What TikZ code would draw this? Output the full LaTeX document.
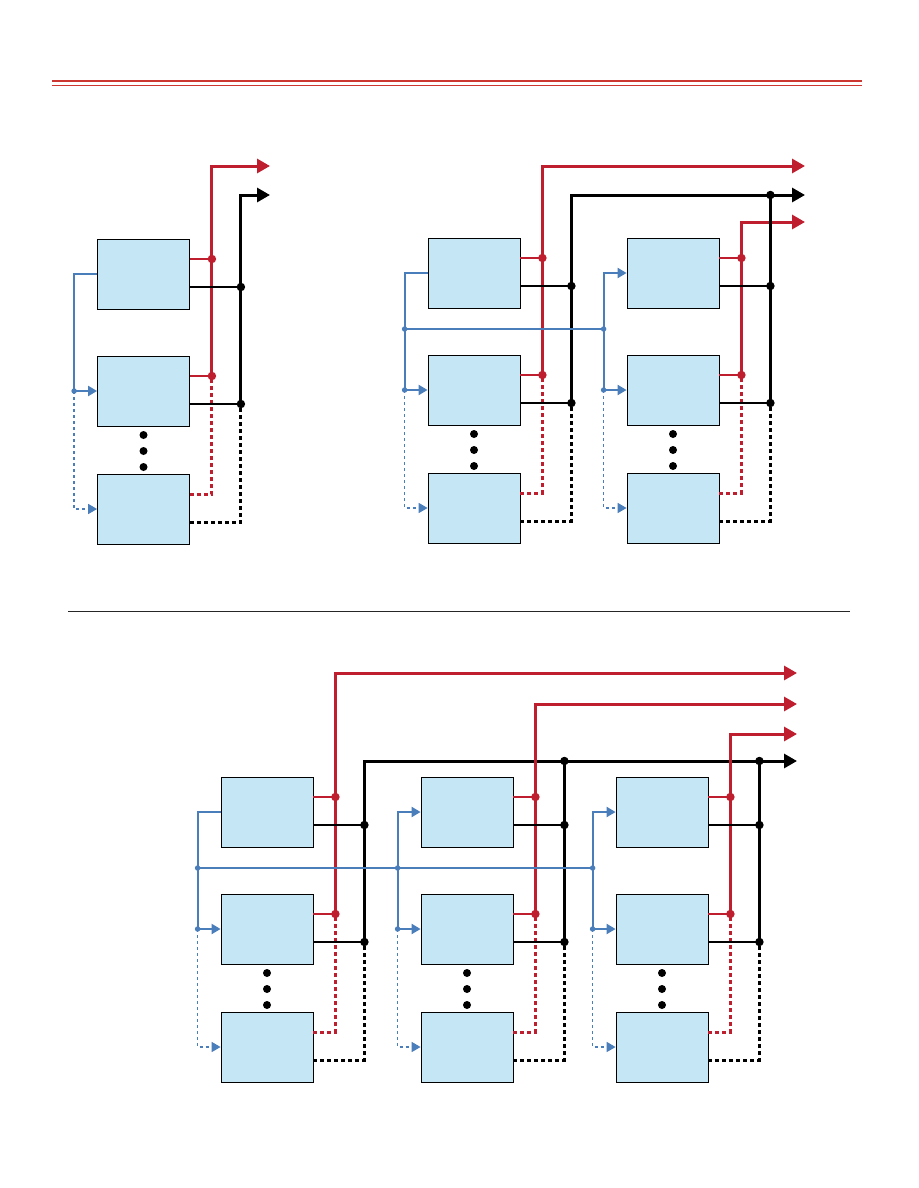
\documentclass[tikz,border=0pt]{standalone}
\usetikzlibrary{arrows.meta, positioning, calc}
\definecolor{busred}{RGB}{190,30,45}
\definecolor{busblue}{RGB}{74,126,187}
\definecolor{unitfill}{RGB}{196,230,245}
\definecolor{rulered}{RGB}{204,55,50}

\begin{document}
\begin{tikzpicture}[x=1pt, y=-1pt,
    unit/.style={draw=black, line width=0.8pt, fill=unitfill, minimum width=92pt, minimum height=70pt, inner sep=0pt},
    redbus/.style={busred, line width=3pt},
    redtap/.style={busred, line width=2.6pt},
    blkbus/.style={black, line width=3pt},
    blktap/.style={black, line width=2.6pt},
    dots/.style={line width=3pt, dash pattern=on 4pt off 3pt},
    outarrow/.style={-{Triangle[length=13pt,width=14pt]}},
    blueln/.style={busblue, line width=2pt},
    bluelink/.style={busblue, line width=1.5pt},
    bluedots/.style={line width=1.6pt, dash pattern=on 3pt off 3pt},
    bluearrow/.style={-{Triangle[length=9pt,width=10pt]}},
    junc/.style={circle, fill, inner sep=0pt, minimum size=8.5pt},
    bjunc/.style={circle, fill=busblue, inner sep=0pt, minimum size=5.5pt},
    ellip/.style={circle, fill=black, inner sep=0pt, minimum size=8pt}]

    \useasboundingbox (0,0) rectangle (918,1188);

    % header rule and separator
    \coordinate (hl) at (52,81);
    \coordinate (hr) at (862,81);
    \draw[rulered, line width=2.5pt] (hl) -- (hr);
    \draw[rulered, line width=0.9pt] ([yshift=-4.5pt]hl) -- ([yshift=-4.5pt]hr);
    \coordinate (sl) at (68,611);
    \coordinate (sr) at (850,611);
    \draw[black!85, line width=0.8pt] (sl) -- (sr);

    % one column of units: name / x / y / red top / black top / arrow end / first
    \foreach \col/\cx/\cy/\rt/\bt/\ax/\f in {
        a/143.5/274/166/195/270/1,
        b/474/273/166/195/805/1,
        c/673/273/222/195/805/0,
        d/267/812/673/761/797/1,
        e/467/812/704/761/797/0,
        f/662/812/734/761/797/0}{
        % units
        \node[unit] (\col1) at (\cx,\cy) {};
        \node[unit] (\col2) at (\cx,\cy+117) {};
        \node[unit] (\col3) at (\cx,\cy+235) {};
        \foreach \k in {1,2,3}
            \node[ellip] (\col-e\k) at (\cx,\cy+145+16*\k) {};

        % blue control line
        \coordinate (\col-b1) at ($(\col1.west)+(-23,0)$);
        \coordinate (\col-b2) at ($(\col2.west)+(-23,0)$);
        \coordinate (\col-b3) at ($(\col3.west)+(-23,0)$);
        \coordinate (\col-bl) at ($(\col1.west)+(-23,56)$);
        \ifnum\f=1
            \draw[blueln] (\col1.west) -- (\col-b1) -- (\col-b2);
        \else
            \draw[blueln, bluearrow] (\col-b2) -- (\col-b1) -- (\col1.west);
        \fi
        \draw[blueln, bluearrow] (\col-b2) -- (\col2.west);
        \draw[blueln, bluedots, bluearrow] (\col-b2) -- (\col-b3) -- (\col3.west);
        \node[bjunc] (\col-bj) at (\col-b2) {};

        % red bus
        \draw[redtap] ([yshift=15pt]\col1.east) -- ++(22,0) coordinate (\col-r1);
        \draw[redtap] ([yshift=15pt]\col2.east) -- ++(22,0) coordinate (\col-r2);
        \draw[redtap, dots] ([yshift=15pt]\col3.east) -- ++(22,0) coordinate (\col-r3) -- (\col-r2);
        \draw[redbus, outarrow] (\col-r2) -- (\col-r2 |- 0,\rt) -- (\ax,\rt);
        \node[junc, busred] (\col-rj1) at (\col-r1) {};
        \node[junc, busred] (\col-rj2) at (\col-r2) {};

        % black bus
        \draw[blktap] ([yshift=-13pt]\col1.east) -- ++(51,0) coordinate (\col-k1);
        \draw[blktap] ([yshift=-13pt]\col2.east) -- ++(51,0) coordinate (\col-k2);
        \draw[blktap, dots] ([yshift=-13pt]\col3.east) -- ++(51,0) coordinate (\col-k3) -- (\col-k2);
        \ifnum\f=1
            \draw[blkbus, outarrow] (\col-k2) -- (\col-k2 |- 0,\bt) -- (\ax,\bt);
        \else
            \draw[blkbus] (\col-k2) -- (\col-k2 |- 0,\bt) coordinate (\col-kt);
            \node[junc] (\col-kj) at (\col-kt) {};
        \fi
        \node[junc] (\col-kj1) at (\col-k1) {};
        \node[junc] (\col-kj2) at (\col-k2) {};
    }

    % links between columns
    \draw[bluelink] (b-bl) -- (c-bl);
    \draw[bluelink] (d-bl) -- (f-bl);
    \foreach \col in {b,c,d,e,f}
        \node[bjunc] (\col-lj) at (\col-bl) {};
\end{tikzpicture}
\end{document}
